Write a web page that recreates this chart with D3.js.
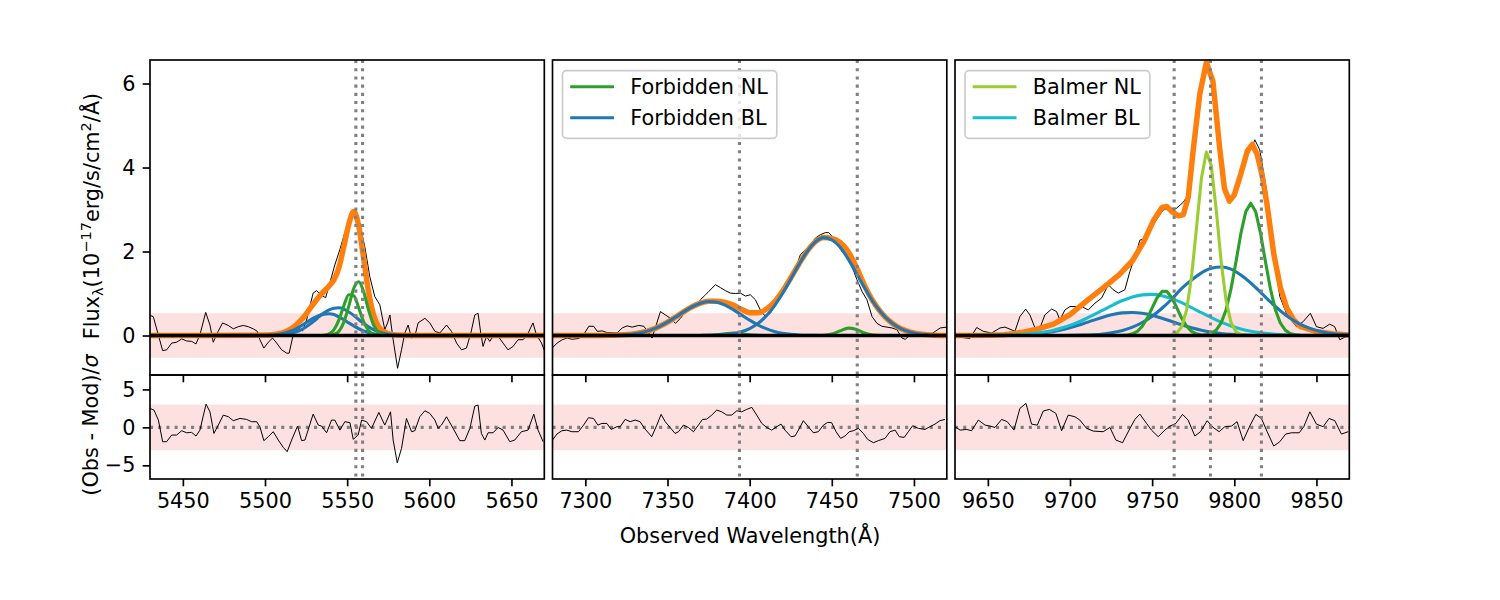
<!DOCTYPE html>
<html><head><meta charset="utf-8">
<script src="https://cdn.jsdelivr.net/npm/d3@7"></script>
<style>body{margin:0;background:#fff}svg{display:block}text{font-family:"DejaVu Sans",sans-serif}</style>
</head><body><svg id="chart" width="1500" height="600"></svg>
<script>
// ---------------- shared axes values ----------------
const fluxTicks = [0, 2, 4, 6];
const residTicks = [-5, 0, 5];
const fluxDomain = [-0.94, 6.56];
const residDomain = [-6.8, 6.9];
const fluxBand = [-0.53, 0.53];
const residBand = [-3, 3];

// ---------------- panel 1 ----------------
const p1Domain = [5430, 5670];
const p1Ticks = [5450, 5500, 5550, 5600, 5650];
const p1LineCentres = [5555.3, 5559.4];
const p1DataWave = [5430.0, 5432.0, 5437.7, 5440.2, 5443.2, 5446.2, 5449.3, 5452.3, 5455.4, 5458.0, 5460.4, 5463.9, 5466.5, 5468.5, 5471.5, 5474.2, 5477.6, 5480.7, 5483.7, 5486.8, 5489.8, 5492.8, 5495.3, 5496.9, 5499.3, 5502.0, 5504.6, 5507.1, 5510.1, 5513.2, 5514.7, 5517.2, 5520.2, 5522.9, 5525.3, 5529.3, 5531.4, 5533.8, 5536.9, 5540.5, 5542.5, 5545.6, 5548.6, 5551.7, 5553.7, 5555.7, 5557.7, 5560.8, 5563.8, 5566.8, 5569.9, 5571.3, 5572.9, 5574.6, 5576.0, 5578.0, 5580.7, 5583.1, 5585.1, 5587.1, 5589.2, 5591.2, 5593.2, 5597.3, 5600.3, 5603.4, 5606.4, 5610.5, 5613.5, 5616.6, 5619.6, 5622.6, 5625.3, 5627.7, 5629.7, 5631.3, 5632.7, 5634.8, 5636.8, 5638.8, 5641.9, 5644.9, 5647.9, 5651.0, 5654.0, 5657.1, 5659.7, 5663.1, 5665.2, 5668.3, 5670.3];
const p1DataFlux = [0.48, 0.45, -0.36, -0.34, -0.18, -0.16, -0.08, -0.13, -0.14, -0.2, 0.02, 0.55, 0.25, -0.16, 0.1, 0.3, 0.24, 0.16, 0.21, 0.24, 0.21, 0.16, 0.1, -0.1, -0.3, -0.16, -0.06, -0.18, -0.34, -0.42, -0.42, 0.02, 0.18, 0.11, 0.37, 1.01, 1.07, 0.97, 0.9, 1.4, 1.68, 2.05, 2.45, 2.8, 2.91, 2.68, 2.64, 2.1, 1.4, 0.93, 0.73, 0.45, 0.14, 0.3, 0.49, -0.1, -0.78, -0.34, 0.06, 0.25, -0.06, -0.02, 0.3, 0.41, 0.3, 0.1, 0.06, 0.25, 0.1, -0.18, -0.34, -0.3, 0.06, 0.49, 0.53, 0.06, -0.26, -0.02, -0.14, -0.02, -0.02, -0.18, -0.34, -0.26, -0.1, -0.1, 0.02, 0.3, 0.02, -0.18, -0.38];
const p1ModelWave = [5430, 5500, 5503, 5506, 5509, 5512, 5515, 5518, 5521, 5524, 5527, 5530, 5533, 5536, 5539, 5542, 5545, 5548, 5551, 5554, 5557, 5560, 5563, 5566, 5569, 5572, 5575, 5578, 5581, 5584, 5587, 5590, 5670];
const p1Total = [0, 0.01, 0.015, 0.03, 0.05, 0.085, 0.14, 0.22, 0.33, 0.46, 0.62, 0.78, 0.93, 1.06, 1.18, 1.33, 1.62, 2.12, 2.65, 2.95, 2.62, 1.85, 1.05, 0.5, 0.22, 0.1, 0.045, 0.02, 0.01, 0.005, 0.002, 0.001, 0];
const p1BroadA = [0, 0.001, 0.003, 0.006, 0.013, 0.025, 0.045, 0.076, 0.12, 0.18, 0.26, 0.35, 0.45, 0.54, 0.61, 0.65, 0.66, 0.63, 0.56, 0.48, 0.38, 0.29, 0.21, 0.14, 0.09, 0.054, 0.03, 0.016, 0.008, 0.004, 0.002, 0.001, 0];
const p1BroadB = [0, 0.005, 0.01, 0.02, 0.035, 0.06, 0.095, 0.14, 0.205, 0.28, 0.355, 0.425, 0.48, 0.51, 0.52, 0.50, 0.44, 0.38, 0.30, 0.23, 0.165, 0.11, 0.071, 0.043, 0.024, 0.013, 0.006, 0.003, 0.002, 0.001, 0, 0, 0];
const p1NarrowA = [0, 0, 0, 0, 0, 0, 0, 0, 0, 0, 0, 0, 0, 0.007, 0.038, 0.141, 0.373, 0.71, 0.97, 0.948, 0.665, 0.334, 0.12, 0.031, 0.006, 0, 0, 0, 0, 0, 0, 0, 0];
const p1NarrowB = [0, 0, 0, 0, 0, 0, 0, 0, 0, 0, 0, 0, 0, 0, 0.004, 0.023, 0.10, 0.32, 0.70, 1.12, 1.28, 1.05, 0.61, 0.26, 0.078, 0.017, 0.002, 0, 0, 0, 0, 0, 0];
const p1ResidWave = [5430, 5432.4, 5435.1, 5437.7, 5440.1, 5443.2, 5446.2, 5449.3, 5452.3, 5455.4, 5458, 5460.4, 5464.1, 5466.5, 5468.9, 5471.6, 5474.6, 5477.7, 5480.7, 5484.8, 5488.8, 5491.8, 5494.9, 5496.9, 5499.3, 5502, 5505, 5508.1, 5511.1, 5513.5, 5516.2, 5519.8, 5522.3, 5524.3, 5529.3, 5532.4, 5534.4, 5537.5, 5540.5, 5542.5, 5545.6, 5548.6, 5551.7, 5553.7, 5556.7, 5558.8, 5561.8, 5564.8, 5569.3, 5572.9, 5576.4, 5578, 5580.5, 5583.1, 5586.1, 5589.2, 5591.2, 5594.2, 5597.3, 5600.3, 5603.4, 5605.4, 5607.4, 5610.5, 5614.5, 5618.6, 5621.6, 5624.7, 5627.7, 5629.7, 5631.7, 5633.8, 5635.8, 5638.8, 5641.9, 5644.9, 5649, 5652, 5656.1, 5660.1, 5663.6, 5666.2, 5669.3];
const p1Resid = [2.5, 2.28, 0.96, -1.89, -1.89, -1.01, -1.01, -0.44, -0.71, -0.66, -1.14, -0.36, 3.06, 2.05, -0.8, 0.3, 1.62, 1.4, 0.88, 1.18, 1.05, 0.75, 0.75, 0.09, -1.75, -1.23, -0.57, -1.67, -2.63, -3.2, -1.67, 0.17, -1.75, -1.67, 1.75, 0.3, 0.17, -0.71, 0.96, 0.96, -0.36, 0.75, 0.62, -1.58, -1.01, 0.96, 0.75, -0.13, 1.97, 0.3, 2.05, -1.67, -4.66, -2.77, 1.18, -0.57, -0.44, 1.4, 2.19, 1.84, 0.96, -0.13, 0.3, 1.4, -0.13, -1.75, -1.75, -0.13, 2.8, 2.94, -0.8, -1.67, -0.71, -0.71, -0.01, -0.36, -1.89, -1.67, -0.57, -0.36, 1.75, -0.36, -1.89];

// ---------------- panel 2 ----------------
const p2Domain = [7280, 7520];
const p2Ticks = [7300, 7350, 7400, 7450, 7500];
const p2LineCentres = [7393.8, 7465.5];
const p2DataWave = [7279.8, 7282.8, 7285.9, 7288.9, 7292, 7296, 7299, 7302.1, 7305.1, 7307.2, 7310.2, 7313.3, 7319.3, 7322.4, 7325.4, 7328.5, 7332.5, 7335.6, 7338.6, 7340.6, 7345.7, 7348.7, 7351.8, 7354.8, 7357.9, 7360.9, 7363.9, 7367, 7370, 7373.1, 7375.1, 7379.2, 7382.2, 7385.2, 7388.3, 7391.3, 7394.4, 7397.4, 7400.4, 7403.5, 7406.5, 7409.6, 7412.6, 7415.6, 7419.7, 7423.8, 7427.8, 7430.8, 7433.9, 7436.9, 7440, 7443, 7446.1, 7448.1, 7450.1, 7453.2, 7456.2, 7459.2, 7462.3, 7465.3, 7468.4, 7471.4, 7474.5, 7477.5, 7480.5, 7483.6, 7486.6, 7489.6, 7492.7, 7494.7, 7497.8, 7500.8, 7503.8, 7506.9, 7509.9, 7513, 7516, 7520];
const p2DataFlux = [-0.30, -0.18, -0.10, -0.06, -0.09, -0.07, 0.02, 0.22, 0.22, 0.1, 0.11, 0.07, 0.06, 0.18, 0.23, 0.20, 0.24, 0.22, 0.06, -0.06, 0.57, 0.49, 0.41, 0.29, 0.41, 0.57, 0.65, 0.68, 0.85, 0.97, 1.05, 1.21, 1.14, 1.07, 1.01, 1.0, 1.01, 0.94, 0.97, 0.85, 0.61, 0.45, 0.53, 0.73, 0.97, 1.21, 1.56, 1.92, 2.04, 2.16, 2.32, 2.4, 2.45, 2.45, 2.37, 2.2, 2.0, 1.88, 1.64, 1.33, 1.05, 0.85, 0.45, 0.29, 0.22, 0.20, 0.18, 0.14, -0.06, -0.09, 0.02, 0.02, 0.02, 0.02, 0.02, 0.1, 0.18, 0.2];
const p2ModelWave = [7280, 7310, 7315, 7320, 7325, 7330, 7335, 7340, 7345, 7350, 7355, 7360, 7365, 7370, 7375, 7380, 7385, 7390, 7395, 7400, 7405, 7410, 7415, 7420, 7425, 7430, 7435, 7440, 7445, 7450, 7455, 7460, 7465, 7470, 7475, 7480, 7485, 7490, 7495, 7500, 7505, 7510, 7520];
const p2Total = [0, 0.002, 0.005, 0.011, 0.022, 0.043, 0.079, 0.134, 0.214, 0.318, 0.44, 0.568, 0.685, 0.772, 0.816, 0.817, 0.788, 0.723, 0.623, 0.545, 0.541, 0.624, 0.798, 1.055, 1.369, 1.704, 2.007, 2.233, 2.336, 2.314, 2.22, 1.997, 1.624, 1.188, 0.822, 0.551, 0.348, 0.207, 0.116, 0.061, 0.03, 0.014, 0];
const p2BroadA = [0, 0.002, 0.005, 0.011, 0.022, 0.043, 0.079, 0.134, 0.214, 0.318, 0.44, 0.568, 0.685, 0.77, 0.809, 0.792, 0.724, 0.617, 0.491, 0.365, 0.253, 0.163, 0.098, 0.055, 0.029, 0.014, 0.0065, 0.003, 0.001, 0, 0, 0, 0, 0, 0, 0, 0, 0, 0, 0, 0, 0, 0];
const p2BroadB = [0, 0, 0, 0, 0, 0, 0, 0, 0, 0, 0, 0, 0, 0.002, 0.004, 0.01, 0.022, 0.046, 0.09, 0.165, 0.285, 0.461, 0.70, 1.00, 1.34, 1.69, 2.0, 2.23, 2.33, 2.28, 2.11, 1.82, 1.48, 1.13, 0.81, 0.55, 0.348, 0.207, 0.116, 0.061, 0.03, 0.014, 0];
const p2NarrowA = [0, 0, 0, 0, 0, 0, 0, 0, 0, 0, 0, 0, 0, 0, 0.003, 0.015, 0.042, 0.06, 0.042, 0.015, 0.003, 0, 0, 0, 0, 0, 0, 0, 0, 0, 0, 0, 0, 0, 0, 0, 0, 0, 0, 0, 0, 0, 0];
const p2NarrowB = [0, 0, 0, 0, 0, 0, 0, 0, 0, 0, 0, 0, 0, 0, 0, 0, 0, 0, 0, 0, 0, 0, 0, 0, 0, 0, 0, 0, 0.005, 0.034, 0.11, 0.177, 0.144, 0.058, 0.012, 0.001, 0, 0, 0, 0, 0, 0, 0];
const p2ResidWave = [7280, 7282.7, 7285.7, 7288.7, 7291.8, 7295.8, 7298.9, 7301.9, 7305, 7307.6, 7310, 7313.1, 7315.7, 7319.2, 7321.2, 7324.2, 7327.3, 7330.3, 7333.3, 7336, 7340.4, 7343.5, 7346.1, 7348.6, 7351.6, 7354.6, 7356.7, 7359.7, 7362.7, 7365.8, 7368.8, 7371.3, 7373.9, 7376.9, 7380, 7383, 7386.1, 7389.1, 7392.2, 7395.2, 7398.2, 7401.3, 7404.3, 7407.4, 7410.4, 7413.4, 7416.5, 7419.1, 7421.5, 7425.2, 7427.6, 7429.7, 7432.7, 7435.7, 7438.8, 7441.8, 7444.9, 7447.5, 7449.9, 7452.6, 7455.4, 7458, 7460.7, 7463.1, 7466.2, 7469.2, 7471.8, 7475.3, 7478.3, 7482.4, 7485.4, 7488.5, 7491.1, 7494.1, 7496.6, 7499.2, 7502.7, 7506.7, 7509.7, 7512.8, 7515.8, 7518.9];
const p2Resid = [-1.67, -0.88, -0.44, -0.36, -0.57, -0.57, 0.3, 1.27, 1.18, 0.3, 0.52, 0.52, -0.27, 0.09, 0.09, 1.05, 0.75, 0.96, 0.75, -0.13, -1.23, 0.3, 1.71, 0.75, -0.01, -0.8, -0.57, 0.3, -0.01, -0.57, 0.3, 1.05, 1.09, 1.62, 2.28, 2.05, 1.62, 1.62, 2.19, 2.05, 2.37, 2.63, 1.62, 0.52, -0.01, -0.36, 0.09, 0.43, -0.36, -1.23, -1.14, -0.36, 0.88, 0.09, -0.71, -0.57, 0.3, 0.66, 0.62, -0.57, -1.45, -1.14, -0.57, -0.44, -0.13, -0.8, -1.58, -2.02, -1.75, -1.45, -0.57, -0.36, -1.23, -1.32, -0.57, 0.22, -0.13, -0.27, 0.09, 0.43, 0.88, 1.05];

// ---------------- panel 3 ----------------
const p3Domain = [9630, 9870];
const p3Ticks = [9650, 9700, 9750, 9800, 9850];
const p3LineCentres = [9763.4, 9785.5, 9816.5];
const p3DataWave = [9630, 9635, 9639.1, 9643.2, 9647.2, 9652.3, 9657.4, 9660.4, 9663.5, 9666.5, 9669.5, 9673, 9675.6, 9678.7, 9681.7, 9684.7, 9688.8, 9691.8, 9693.9, 9696.9, 9700, 9704, 9707, 9711.1, 9715.2, 9719.2, 9723.3, 9726.3, 9729.4, 9733.4, 9736.4, 9740.5, 9742.5, 9745.6, 9748.6, 9752.7, 9756.7, 9760.8, 9764.8, 9768.9, 9772, 9775, 9779, 9783.1, 9786.1, 9789.2, 9792.2, 9795.3, 9798.3, 9801.3, 9804.4, 9807.4, 9810.5, 9812.5, 9815.5, 9819.6, 9823.6, 9827.7, 9831.7, 9833.8, 9837.8, 9841.9, 9846.3, 9850, 9854, 9858.1, 9861.1, 9864.2, 9868.2, 9870.3];
const p3DataFlux = [0.0, -0.05, -0.07, 0.19, 0.1, 0.06, 0.18, 0.2, 0.15, 0.1, 0.45, 0.63, 0.49, 0.18, 0.18, 0.49, 0.63, 0.57, 0.37, 0.61, 0.69, 0.69, 0.69, 0.61, 0.77, 0.89, 1.21, 1.09, 1.01, 1.09, 1.52, 1.99, 2.27, 2.31, 2.52, 2.76, 2.99, 3.03, 3.03, 3.17, 3.35, 4.42, 5.85, 6.45, 6.17, 5.2, 4.02, 3.39, 3.23, 3.47, 3.94, 4.26, 4.46, 4.66, 4.42, 3.47, 2.04, 0.93, 0.53, 0.41, 0.21, 0.33, 0.53, 0.21, 0.17, 0.27, 0.21, -0.1, -0.02, 0.0];
const p3TotalWave = [9630, 9650, 9660, 9670, 9680, 9690, 9700, 9710, 9720, 9730, 9738, 9745, 9751, 9756, 9759, 9762, 9766, 9769, 9772, 9775, 9779, 9783, 9787, 9791, 9794, 9797, 9800, 9804, 9808, 9811, 9814, 9817, 9820, 9824, 9828, 9832, 9836, 9840, 9850, 9860, 9870];
const p3Total = [0.0, 0.005, 0.02, 0.07, 0.15, 0.27, 0.5, 0.82, 1.13, 1.45, 1.78, 2.24, 2.75, 3.05, 3.07, 2.95, 2.85, 2.88, 3.3, 4.42, 5.75, 6.5, 6.05, 4.5, 3.5, 3.2, 3.35, 3.85, 4.4, 4.55, 4.3, 3.8, 3.1, 1.95, 1.15, 0.65, 0.38, 0.22, 0.09, 0.04, 0.015];
const p3BroadWave = [9630, 9660, 9666, 9672, 9678, 9684, 9690, 9696, 9702, 9708, 9714, 9720, 9726, 9732, 9738, 9744, 9750, 9756, 9762, 9768, 9774, 9780, 9786, 9792, 9798, 9804, 9810, 9816, 9822, 9828, 9834, 9840, 9846, 9852, 9858, 9864, 9870];
const p3BroadA = [0, 0, 0, 0, 0, 0, 0, 0.002, 0.005, 0.01, 0.02, 0.038, 0.07, 0.12, 0.2, 0.31, 0.46, 0.65, 0.87, 1.12, 1.32, 1.49, 1.6, 1.63, 1.58, 1.44, 1.25, 1.03, 0.8, 0.59, 0.41, 0.27, 0.17, 0.1, 0.055, 0.03, 0.015];
const p3BroadB = [0, 0.005, 0.01, 0.019, 0.034, 0.058, 0.094, 0.143, 0.206, 0.28, 0.36, 0.437, 0.50, 0.539, 0.549, 0.529, 0.48, 0.412, 0.334, 0.255, 0.184, 0.125, 0.081, 0.049, 0.028, 0.015, 0.008, 0.004, 0.002, 0.001, 0, 0, 0, 0, 0, 0, 0];
const p3BalmerBroad = [0, 0.009, 0.017, 0.03, 0.051, 0.083, 0.128, 0.19, 0.271, 0.37, 0.483, 0.605, 0.725, 0.833, 0.918, 0.968, 0.979, 0.948, 0.879, 0.782, 0.666, 0.543, 0.425, 0.318, 0.228, 0.157, 0.103, 0.065, 0.04, 0.023, 0.013, 0.007, 0.003, 0.002, 0.001, 0, 0];
const p3NarrowWave = [9630, 9729, 9732, 9735, 9738, 9741, 9744, 9747, 9750, 9753, 9756, 9759, 9762, 9765, 9768, 9771, 9774, 9777, 9780, 9783, 9786, 9789, 9792, 9795, 9798, 9801, 9804, 9807, 9810, 9813, 9816, 9819, 9822, 9825, 9828, 9831, 9834, 9837, 9840, 9870];
const p3BalmerNarrow = [0, 0, 0, 0, 0, 0, 0, 0, 0, 0, 0, 0, 0.013, 0.059, 0.21, 0.61, 1.41, 2.57, 3.75, 4.37, 4.05, 2.99, 1.76, 0.83, 0.31, 0.092, 0.022, 0.004, 0, 0, 0, 0, 0, 0, 0, 0, 0, 0, 0, 0];
const p3NarrowA = [0, 0.001, 0.004, 0.013, 0.04, 0.10, 0.22, 0.41, 0.66, 0.90, 1.05, 1.05, 0.90, 0.66, 0.41, 0.22, 0.10, 0.04, 0.013, 0.004, 0.001, 0, 0, 0, 0, 0, 0, 0, 0, 0, 0, 0, 0, 0, 0, 0, 0, 0, 0, 0];
const p3NarrowB = [0, 0, 0, 0, 0, 0, 0, 0, 0, 0, 0, 0, 0, 0, 0, 0, 0, 0, 0.005, 0.016, 0.048, 0.128, 0.30, 0.615, 1.11, 1.75, 2.43, 2.95, 3.15, 2.95, 2.43, 1.75, 1.11, 0.615, 0.30, 0.128, 0.048, 0.016, 0.005, 0];
const p3ResidWave = [9630, 9633.1, 9637.1, 9640.1, 9644.2, 9648.3, 9651.3, 9654.3, 9658.4, 9661.8, 9665.9, 9669.5, 9673.2, 9676.6, 9680.1, 9683.7, 9687.4, 9691.4, 9694.9, 9698.9, 9703, 9706, 9710.1, 9714.2, 9720.2, 9724.3, 9727.9, 9732, 9736.5, 9739.5, 9742.5, 9746.6, 9749.6, 9753.7, 9757.7, 9760.8, 9764.4, 9768.5, 9771.9, 9776, 9779.4, 9783.5, 9787.1, 9790.8, 9794.2, 9798.3, 9801.7, 9805.4, 9809.4, 9813.1, 9816.5, 9820, 9824, 9827.7, 9831.3, 9834.8, 9839.5, 9842.3, 9846, 9850, 9854.1, 9857.7, 9861.2, 9865.2, 9869.3];
const p3Resid = [0.09, -0.36, -0.27, -0.44, 0.96, 0.3, 0.17, -0.01, 1.05, 0.75, -0.36, 2.5, 3.16, 0.43, 0.3, 2.15, 2.37, 1.84, -0.44, 1.62, 1.4, 0.96, -0.13, -0.49, -0.57, -0.01, -1.67, -2.02, -0.13, 1.05, 1.75, 0.52, -0.36, -1.23, -0.36, 0.17, 0.52, 1.71, 0.96, -1.14, -0.57, 0.88, -0.01, -0.57, 0.09, 0.17, 0.75, -1.75, 0.17, 1.71, 1.18, -0.57, -2.46, -1.89, -0.88, -0.71, -0.71, 0.09, 2.05, 0.43, 0.09, 1.18, 0.88, -0.88, -0.57];

// ---------------- styling ----------------
const C_TOTAL = "#ff7f0e", C_FBL = "#1f77b4", C_FNL = "#2ca02c", C_BNL = "#9acd32", C_BBL = "#17becf";
const FS = 20.8;
const LEFT = 150, PW = 394.3, PSTEP = 402.5, TOP = 60, MID = 375, BOT = 479;
const TICK = 7.3, PAD = 7.3, SPINE = 1.67;

const panels = [
  { domain: p1Domain, ticks: p1Ticks, lines: p1LineCentres,
    data: [p1DataWave, p1DataFlux], resid: [p1ResidWave, p1Resid],
    total: [p1ModelWave, p1Total, d3.curveMonotoneX],
    comps: [[p1ModelWave, p1BroadA, C_FBL, d3.curveMonotoneX], [p1ModelWave, p1BroadB, C_FBL, d3.curveMonotoneX],
            [p1ModelWave, p1NarrowA, C_FNL, d3.curveMonotoneX], [p1ModelWave, p1NarrowB, C_FNL, d3.curveMonotoneX]],
    legend: null },
  { domain: p2Domain, ticks: p2Ticks, lines: p2LineCentres,
    data: [p2DataWave, p2DataFlux], resid: [p2ResidWave, p2Resid],
    total: [p2ModelWave, p2Total, d3.curveMonotoneX],
    comps: [[p2ModelWave, p2NarrowA, C_FNL, d3.curveMonotoneX], [p2ModelWave, p2NarrowB, C_FNL, d3.curveMonotoneX],
            [p2ModelWave, p2BroadA, C_FBL, d3.curveMonotoneX], [p2ModelWave, p2BroadB, C_FBL, d3.curveMonotoneX]],
    legend: [["Forbidden NL", C_FNL], ["Forbidden BL", C_FBL]] },
  { domain: p3Domain, ticks: p3Ticks, lines: p3LineCentres,
    data: [p3DataWave, p3DataFlux], resid: [p3ResidWave, p3Resid],
    total: [p3TotalWave, p3Total, d3.curveLinear],
    comps: [[p3BroadWave, p3BroadB, C_FBL, d3.curveMonotoneX], [p3BroadWave, p3BroadA, C_FBL, d3.curveMonotoneX],
            [p3BroadWave, p3BalmerBroad, C_BBL, d3.curveMonotoneX],
            [p3NarrowWave, p3NarrowA, C_FNL, d3.curveLinear], [p3NarrowWave, p3NarrowB, C_FNL, d3.curveLinear],
            [p3NarrowWave, p3BalmerNarrow, C_BNL, d3.curveLinear]],
    legend: [["Balmer NL", C_BNL], ["Balmer BL", C_BBL]] }
];

const svg = d3.select("#chart");
svg.append("rect").attr("width", 1500).attr("height", 600).attr("fill", "#fff");
const defs = svg.append("defs");

function styleAxis(g) {
  g.select(".domain").remove();
  g.selectAll(".tick line").attr("stroke", "#000").attr("stroke-width", SPINE);
  g.selectAll(".tick text").attr("font-size", FS).attr("fill", "#000").attr("font-family", "DejaVu Sans");
}

panels.forEach((p, i) => {
  const x0 = LEFT + i * PSTEP, x1 = x0 + PW;
  const xs = d3.scaleLinear().domain(p.domain).range([x0, x1]);
  const ys = d3.scaleLinear().domain(fluxDomain).range([MID, TOP]);
  const yr = d3.scaleLinear().domain(residDomain).range([BOT, MID]);

  defs.append("clipPath").attr("id", "ct" + i).append("rect").attr("x", x0).attr("y", TOP).attr("width", PW).attr("height", MID - TOP);
  defs.append("clipPath").attr("id", "cr" + i).append("rect").attr("x", x0).attr("y", MID).attr("width", PW).attr("height", BOT - MID);

  // ---- top panel ----
  const gt = svg.append("g").attr("clip-path", `url(#ct${i})`);
  gt.append("rect").attr("x", x0).attr("width", PW)
    .attr("y", ys(fluxBand[1])).attr("height", ys(fluxBand[0]) - ys(fluxBand[1])).attr("fill", "#fde1e1");
  const mk = (ysc, curve) => d3.line().x(d => xs(d[0])).y(d => ysc(d[1])).curve(curve);
  gt.append("path").attr("d", mk(ys, d3.curveLinear)(d3.zip(p.data[0], p.data[1])))
    .attr("fill", "none").attr("stroke", "#000").attr("stroke-width", 1);
  gt.append("path").attr("d", mk(ys, p.total[2])(d3.zip(p.total[0], p.total[1])))
    .attr("fill", "none").attr("stroke", C_TOTAL).attr("stroke-width", 5.5).attr("stroke-linejoin", "round");
  p.comps.forEach(c => {
    gt.append("path").attr("d", mk(ys, c[3])(d3.zip(c[0], c[1])))
      .attr("fill", "none").attr("stroke", c[2]).attr("stroke-width", 3.1).attr("stroke-linejoin", "round");
  });
  gt.append("line").attr("x1", x0).attr("x2", x1).attr("y1", ys(0)).attr("y2", ys(0))
    .attr("stroke", "#000").attr("stroke-width", 3.4);
  p.lines.forEach(w => {
    gt.append("line").attr("x1", xs(w)).attr("x2", xs(w)).attr("y1", TOP).attr("y2", MID)
      .attr("stroke", "#808080").attr("stroke-width", 3.1).attr("stroke-dasharray", "3.1,5.1");
  });

  // ---- residual panel ----
  const gr = svg.append("g").attr("clip-path", `url(#cr${i})`);
  gr.append("rect").attr("x", x0).attr("width", PW)
    .attr("y", yr(residBand[1])).attr("height", yr(residBand[0]) - yr(residBand[1])).attr("fill", "#fde1e1");
  gr.append("line").attr("x1", x0).attr("x2", x1).attr("y1", yr(0)).attr("y2", yr(0))
    .attr("stroke", "#808080").attr("stroke-width", 3.1).attr("stroke-dasharray", "3.1,5.1");
  gr.append("path").attr("d", mk(yr, d3.curveLinear)(d3.zip(p.resid[0], p.resid[1])))
    .attr("fill", "none").attr("stroke", "#000").attr("stroke-width", 1);
  p.lines.forEach(w => {
    gr.append("line").attr("x1", xs(w)).attr("x2", xs(w)).attr("y1", MID).attr("y2", BOT)
      .attr("stroke", "#808080").attr("stroke-width", 3.1).attr("stroke-dasharray", "3.1,5.1");
  });

  // ---- spines ----
  svg.append("rect").attr("x", x0).attr("y", TOP).attr("width", PW).attr("height", MID - TOP)
    .attr("fill", "none").attr("stroke", "#000").attr("stroke-width", SPINE);
  svg.append("rect").attr("x", x0).attr("y", MID).attr("width", PW).attr("height", BOT - MID)
    .attr("fill", "none").attr("stroke", "#000").attr("stroke-width", SPINE);

  // ---- axes ----
  svg.append("g").attr("transform", `translate(0,${MID})`)
    .call(d3.axisBottom(xs).tickValues(p.ticks).tickSize(TICK).tickFormat(() => "")).call(styleAxis);
  svg.append("g").attr("transform", `translate(0,${BOT})`)
    .call(d3.axisBottom(xs).tickValues(p.ticks).tickSize(TICK).tickPadding(PAD).tickFormat(d3.format("d"))).call(styleAxis);
  if (i === 0) {
    svg.append("g").attr("transform", `translate(${x0},0)`)
      .call(d3.axisLeft(ys).tickValues(fluxTicks).tickSize(TICK).tickPadding(PAD).tickFormat(d3.format("d"))).call(styleAxis);
    svg.append("g").attr("transform", `translate(${x0},0)`)
      .call(d3.axisLeft(yr).tickValues(residTicks).tickSize(TICK).tickPadding(PAD).tickFormat(d3.format("d"))).call(styleAxis);
  }

  // ---- legend ----
  if (p.legend) {
    const lg = svg.append("g");
    const box = lg.append("rect").attr("x", x0 + 10).attr("y", 70.7).attr("rx", 4).attr("ry", 4)
      .attr("fill", "#fff").attr("fill-opacity", 0.8).attr("stroke", "#cccccc").attr("stroke-width", SPINE);
    let maxR = 0;
    p.legend.forEach((e, k) => {
      const yy = 86.7 + k * 31;
      lg.append("line").attr("x1", x0 + 17.7).attr("x2", x0 + 61.5).attr("y1", yy).attr("y2", yy)
        .attr("stroke", e[1]).attr("stroke-width", 3.1);
      const t = lg.append("text").attr("x", x0 + 77.7).attr("y", yy).attr("dy", "0.36em")
        .attr("font-size", FS).attr("fill", "#000").text(e[0]);
      maxR = Math.max(maxR, x0 + 77.7 + t.node().getComputedTextLength());
    });
    box.attr("width", maxR + 9 - (x0 + 10)).attr("height", 67.6);
  }
});

// ---- axis labels ----
const yl = svg.append("text").attr("transform", "translate(99,216) rotate(-90)")
  .attr("text-anchor", "middle").attr("font-size", FS).attr("fill", "#000");
yl.append("tspan").text("Flux");
yl.append("tspan").attr("font-size", FS * 0.7).attr("dy", 4).text("λ");
yl.append("tspan").attr("dy", -4).text("(10");
yl.append("tspan").attr("font-size", FS * 0.7).attr("dy", -8).text("−17");
yl.append("tspan").attr("dy", 8).text("erg/s/cm");
yl.append("tspan").attr("font-size", FS * 0.7).attr("dy", -8).text("2");
yl.append("tspan").attr("dy", 8).text("/Å)");

const rl = svg.append("text").attr("transform", "translate(98,425) rotate(-90)")
  .attr("text-anchor", "middle").attr("font-size", FS).attr("fill", "#000");
rl.append("tspan").text("(Obs - Mod)/");
rl.append("tspan").attr("font-style", "italic").text("σ");

svg.append("text").attr("x", 750).attr("y", 543).attr("text-anchor", "middle")
  .attr("font-size", FS).attr("fill", "#000").text("Observed Wavelength(Å)");
</script></body></html>
